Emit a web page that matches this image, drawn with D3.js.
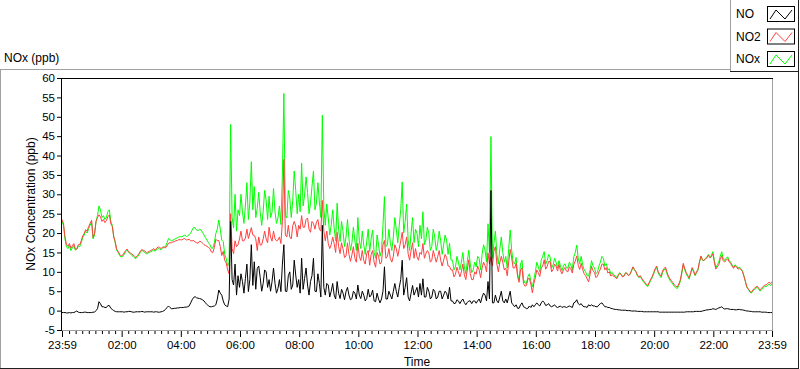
<!DOCTYPE html>
<html>
<head>
<meta charset="utf-8">
<script src="https://cdn.jsdelivr.net/npm/d3@7"></script>
<style>
  body { margin: 0; background: #fff; }
  svg { display: block; font-family: "Liberation Sans", Arial, sans-serif; }
</style>
</head>
<body>
<script>
// ---------------- DATA ----------------
const seriesNames = ["NO", "NO2", "NOx"];
const seriesColors = ["#000000", "#ff4040", "#00ff00"];
const startTime = new Date(2020, 0, 1, 23, 59);
const stepMinutes = 3;
const yTickValues = [-5, 0, 5, 10, 15, 20, 25, 30, 35, 40, 45, 50, 55, 60];

// one row = one hour (20 samples, 3 min apart); last row has the final sample
const noxValues = [
  23.0,22.0,18.5,16.5,16.0,16.8,15.5,16.2,16.8,15.6,15.8,16.6,16.5,17.5,18.8,19.5,20.5,20.0,21.2,22.0,
  22.8,18.5,19.5,23.0,24.5,27.0,26.0,24.0,24.5,23.5,24.0,25.5,26.0,23.0,22.0,19.0,17.5,15.5,15.0,14.2,
  13.8,14.0,14.5,15.2,15.6,15.0,14.8,14.3,14.0,13.6,13.4,13.9,14.4,15.0,15.6,15.2,15.0,14.6,14.8,15.0,
  15.2,15.4,15.6,15.3,15.8,16.0,15.9,15.7,16.2,16.4,16.5,17.5,18.6,18.3,18.0,18.2,18.4,18.6,18.8,19.0,
  19.1,19.0,19.3,19.5,19.1,19.3,19.6,20.0,20.8,21.5,21.3,20.8,20.6,21.0,20.8,20.2,19.5,18.8,18.2,17.5,
  17.0,16.1,16.1,17.5,19.9,21.0,23.4,21.0,18.2,17.8,14.5,13.5,11.5,12.5,48.0,24.0,21.3,30.0,20.5,26.0,
  24.5,30.0,25.5,22.5,27.0,33.0,23.5,28.0,38.4,26.0,32.0,24.0,26.4,30.5,25.4,22.0,25.5,31.0,28.5,23.5,
  29.5,24.0,25.4,31.5,25.5,22.5,23.9,27.0,22.2,35.0,56.0,24.5,23.9,31.0,29.0,24.0,28.5,36.0,31.0,25.0,
  30.0,25.5,38.0,27.0,29.8,34.5,30.5,25.0,27.7,32.0,36.0,26.0,27.7,33.0,28.0,24.0,50.4,26.5,22.0,27.5,
  23.9,19.5,22.0,26.0,21.3,18.0,27.7,21.0,17.8,23.0,20.4,16.5,19.0,23.5,18.5,15.5,17.5,21.5,18.0,15.5,
  24.0,18.0,16.0,20.5,16.9,14.5,17.8,21.0,15.2,18.5,20.8,15.0,13.5,19.5,17.0,14.0,15.5,22.0,29.4,16.5,
  17.0,21.0,17.4,15.5,19.0,24.0,21.0,17.5,22.0,26.0,33.2,20.0,23.0,27.5,18.2,15.5,20.0,24.0,17.5,21.0,
  19.9,16.5,22.0,18.5,25.5,17.0,18.2,21.5,19.9,15.5,16.5,21.0,19.0,15.5,17.4,20.5,18.0,14.5,17.0,19.5,
  18.2,14.5,17.4,13.0,13.0,10.5,11.3,14.0,12.5,10.5,12.5,15.0,11.3,9.5,12.6,15.6,12.0,9.8,10.5,12.5,
  11.3,14.0,13.5,10.5,14.5,17.0,15.6,12.5,22.4,15.0,44.9,13.5,17.4,20.5,14.5,12.0,16.0,19.0,15.0,12.5,
  14.0,11.0,16.0,20.8,15.6,12.5,12.0,13.7,9.4,7.9,12.0,13.0,8.0,7.1,7.0,8.8,9.5,7.5,6.1,8.0,
  10.0,12.5,11.3,10.0,13.0,14.0,15.2,12.0,12.9,14.5,13.8,11.0,11.8,13.5,12.5,11.0,12.9,11.5,10.3,11.5,
  12.1,11.0,11.0,12.5,11.8,10.5,13.9,15.0,16.9,13.5,12.1,14.0,11.8,10.5,10.0,9.0,8.9,10.5,12.9,11.5,
  11.0,9.5,9.9,11.5,12.5,14.0,13.5,11.5,12.1,10.5,10.8,9.5,9.8,9.2,9.0,8.5,9.2,9.8,9.4,8.8,
  9.0,9.8,9.6,9.0,9.4,10.2,11.2,10.5,10.0,9.0,8.5,8.8,8.1,7.5,7.0,6.5,6.2,7.0,7.8,8.5,
  9.5,10.5,11.2,9.8,9.0,8.5,9.8,10.5,10.8,9.5,8.5,7.8,7.3,6.8,6.2,5.9,5.7,6.5,7.5,9.5,
  11.8,10.5,9.5,8.8,8.1,9.5,10.8,10.0,9.0,9.8,10.5,12.5,13.9,13.0,12.9,13.5,13.8,14.5,13.9,14.2,
  15.2,13.0,11.0,11.8,12.5,14.0,15.2,13.5,12.9,13.5,13.9,13.0,12.5,11.8,11.2,11.8,11.5,11.0,11.2,10.8,
  10.3,9.0,7.5,6.0,5.5,4.8,4.5,5.0,5.4,5.8,6.0,5.5,5.0,5.4,5.8,6.2,6.2,6.5,6.8,6.5,7.0
];

const noValues = [
  -0.5,-0.5,-0.5,-0.6,-0.6,-0.5,-0.6,-0.5,-0.5,-0.3,-0.1,-0.4,-0.5,-0.5,-0.5,-0.4,-0.4,-0.5,-0.5,-0.5,
  -0.5,-0.4,-0.4,0.0,0.5,2.3,1.8,1.0,1.0,0.8,0.8,1.3,1.3,0.6,0.3,0.0,-0.2,-0.3,-0.3,-0.3,
  -0.3,-0.3,-0.4,-0.3,-0.3,-0.2,-0.2,-0.3,-0.4,-0.4,-0.3,-0.3,-0.3,-0.3,-0.2,-0.3,-0.4,-0.3,-0.3,-0.3,
  -0.3,-0.3,-0.4,-0.3,-0.3,-0.4,-0.4,-0.3,-0.2,0.0,0.3,0.8,1.2,0.8,0.5,0.5,0.6,0.6,0.7,0.7,
  0.8,0.8,0.8,0.9,0.9,1.0,1.2,2.0,2.8,3.4,3.6,3.3,3.2,3.1,3.0,2.8,2.5,2.0,1.6,1.2,
  1.0,1.0,1.1,1.2,1.5,3.0,5.3,4.5,4.0,2.5,1.5,1.2,1.0,3.0,23.0,8.0,6.6,12.0,4.0,9.0,
  6.0,9.5,7.5,4.5,8.3,12.0,4.9,8.0,17.0,6.5,12.6,5.5,10.9,11.5,8.5,5.0,7.0,10.5,10.0,6.0,
  8.0,5.0,7.5,11.0,7.0,4.5,5.7,8.0,4.9,12.0,17.0,5.0,4.9,9.0,10.0,5.5,6.6,13.0,9.2,6.0,
  8.0,4.5,13.5,5.5,8.3,11.0,6.6,4.0,7.5,9.0,13.5,5.0,4.9,9.5,7.0,3.5,22.0,6.0,4.0,7.0,
  6.6,3.5,5.0,7.0,4.0,3.0,7.5,4.5,3.1,5.5,4.5,2.8,4.9,6.0,4.0,2.8,3.1,5.0,4.5,3.0,
  6.6,4.0,3.1,5.0,4.0,2.5,3.1,5.5,3.5,4.0,5.3,2.5,2.3,4.5,3.0,2.0,3.0,5.0,11.3,3.0,
  3.0,5.0,4.0,3.0,5.0,7.0,5.0,3.5,6.0,8.0,13.0,4.0,6.0,8.5,3.5,2.5,4.5,6.5,4.0,5.0,
  6.0,3.5,7.0,4.0,8.2,3.5,3.5,6.0,5.0,3.0,3.5,5.5,5.0,3.0,3.5,5.0,5.0,3.0,4.0,5.0,
  4.5,3.0,6.0,2.5,2.5,1.8,1.9,2.8,2.5,1.8,2.5,3.0,2.1,1.5,2.1,2.5,2.5,1.8,2.5,2.5,
  1.9,2.5,3.0,2.0,3.5,4.5,4.0,2.5,7.5,3.0,31.0,2.0,2.0,4.0,2.5,2.0,3.5,5.0,2.5,2.0,
  3.0,2.0,3.5,5.0,2.0,1.5,1.0,1.5,0.6,0.6,1.5,2.0,1.0,0.8,0.5,0.6,1.2,0.8,1.5,1.0,
  1.5,2.0,1.5,1.2,2.0,2.5,2.1,1.3,1.5,1.8,1.2,1.0,1.2,1.5,1.0,0.8,1.0,1.2,0.8,1.0,
  1.0,0.8,1.0,1.2,1.0,0.8,2.0,2.2,2.8,1.8,1.5,1.8,1.2,1.0,1.0,0.8,1.5,1.2,1.5,1.2,
  1.2,1.0,1.0,1.5,1.8,2.0,1.5,1.0,1.0,0.8,0.8,0.6,0.5,0.4,0.3,0.3,0.2,0.2,0.1,0.1,
  0.1,0.1,0.0,0.0,0.0,-0.1,-0.1,-0.1,-0.1,-0.2,-0.2,-0.2,-0.2,-0.3,-0.3,-0.3,-0.3,-0.3,-0.3,-0.3,
  -0.3,-0.3,-0.3,-0.3,-0.4,-0.4,-0.4,-0.4,-0.4,-0.4,-0.4,-0.4,-0.4,-0.4,-0.4,-0.4,-0.4,-0.4,-0.4,-0.4,
  -0.4,-0.4,-0.3,-0.3,-0.3,-0.3,-0.3,-0.3,-0.2,-0.2,-0.2,-0.2,-0.2,-0.1,0.0,0.1,0.2,0.2,0.3,0.3,
  0.5,0.4,0.3,0.5,0.7,0.8,1.0,0.6,0.4,0.5,0.5,0.4,0.3,0.3,0.3,0.2,0.2,0.3,0.3,0.2,
  0.2,0.1,0.0,-0.1,-0.1,-0.2,-0.2,-0.3,-0.3,-0.3,-0.3,-0.3,-0.3,-0.4,-0.4,-0.4,-0.4,-0.5,-0.5,-0.5,-0.5
];

const no2Values = [
  23.5,22.5,19.0,17.1,16.6,17.3,16.1,16.7,17.3,15.9,15.9,17.0,17.0,18.0,19.3,19.9,20.9,20.5,21.7,22.5,
  23.3,18.9,19.9,23.0,24.0,24.7,24.2,23.0,23.5,22.7,23.2,24.2,24.7,22.4,21.7,19.0,17.7,15.8,15.3,14.5,
  14.1,14.3,14.9,15.5,15.9,15.2,15.0,14.6,14.4,14.0,13.7,14.2,14.7,15.3,15.8,15.5,15.4,14.9,15.1,15.3,
  15.5,15.7,16.0,15.6,16.1,16.4,16.3,16.0,16.4,16.4,16.2,16.7,17.4,17.5,17.5,17.7,17.8,18.0,18.1,18.3,
  18.3,18.2,18.5,18.6,18.2,18.3,18.4,18.0,18.0,18.1,17.7,17.5,17.4,17.9,17.8,17.4,17.0,16.8,16.6,16.3,
  16.0,15.1,15.0,16.3,18.4,18.0,18.1,16.5,14.2,15.3,13.0,12.3,10.5,9.5,25.0,16.0,14.7,18.0,16.5,17.0,
  18.5,20.5,18.0,18.0,18.7,21.0,18.6,20.0,21.4,19.5,19.4,18.5,15.5,19.0,16.9,17.0,18.5,20.5,18.5,17.5,
  21.5,19.0,17.9,20.5,18.5,18.0,18.2,19.0,17.3,23.0,39.0,19.5,19.0,22.0,19.0,18.5,21.9,23.0,21.8,19.0,
  22.0,21.0,24.5,21.5,21.5,23.5,23.9,21.0,20.2,23.0,22.5,21.0,22.8,23.5,21.0,20.5,28.4,20.5,18.0,20.5,
  17.3,16.0,17.0,19.0,17.3,15.0,20.2,16.5,14.7,17.5,15.9,13.7,14.1,17.5,14.5,12.7,14.4,16.5,13.5,12.5,
  17.4,14.0,12.9,15.5,12.9,12.0,14.7,15.5,11.7,14.5,15.5,12.5,11.2,15.0,14.0,12.0,12.5,17.0,18.1,13.5,
  14.0,16.0,13.4,12.5,14.0,17.0,16.0,14.0,16.0,18.0,20.2,16.0,17.0,19.0,14.7,13.0,15.5,17.5,13.5,16.0,
  13.9,13.0,15.0,14.5,17.3,13.5,14.7,15.5,14.9,12.5,13.0,15.5,14.0,12.5,13.9,15.5,13.0,11.5,13.0,14.5,
  13.7,11.5,11.4,10.5,10.5,8.7,9.4,11.2,10.0,8.7,10.0,12.0,9.2,8.0,10.5,13.1,9.5,8.0,8.0,10.0,
  9.4,11.5,10.5,8.5,11.0,12.5,11.6,10.0,14.9,12.0,13.9,11.5,15.4,16.5,12.0,10.0,12.5,14.0,12.5,10.5,
  11.0,9.0,12.5,15.8,13.6,11.0,11.0,12.2,8.8,7.3,10.5,11.0,7.0,6.3,6.5,8.2,8.3,6.7,4.6,7.0,
  8.5,10.5,9.8,8.8,11.0,11.5,13.1,10.7,11.4,12.7,12.6,10.0,10.6,12.0,11.5,10.2,11.9,10.3,9.5,10.5,
  11.1,10.2,10.0,11.3,10.8,9.7,11.9,12.8,14.1,11.7,10.6,12.2,10.6,9.5,9.0,8.2,7.4,9.3,11.4,10.3,
  9.8,8.5,8.9,10.0,10.7,12.0,12.0,10.5,11.1,9.7,10.0,8.9,9.3,8.8,8.7,8.2,9.0,9.6,9.3,8.7,
  8.9,9.7,9.6,9.0,9.4,10.3,11.3,10.6,10.1,9.2,8.7,9.0,8.3,7.8,7.3,6.8,6.5,7.3,8.1,8.8,
  9.8,10.8,11.5,10.1,9.4,8.9,10.2,10.9,11.2,9.9,8.9,8.2,7.7,7.2,6.6,6.3,6.1,6.9,7.9,9.9,
  12.2,10.9,9.8,9.1,8.4,9.8,11.1,10.3,9.2,10.0,10.7,12.7,14.1,13.1,12.9,13.4,13.6,14.3,13.6,13.9,
  14.7,12.6,10.7,11.3,11.8,13.2,14.2,12.9,12.5,13.0,13.4,12.6,12.2,11.5,10.9,11.6,11.3,10.7,10.9,10.6,
  10.1,8.9,7.5,6.1,5.6,5.0,4.7,5.3,5.7,6.1,6.3,5.8,5.3,5.8,6.2,6.6,6.6,7.0,7.3,7.0,7.5
];

// ---------------- CHART ----------------
const W = 800, H = 369;
const plotL = 62, plotR = 772, plotT = 78, plotB = 330;

const svg = d3.select("body").append("svg").attr("width", W).attr("height", H);

const endTime = d3.timeHour.offset(startTime, 24);
const x = d3.scaleTime().domain([startTime, endTime]).range([plotL, plotR]);
const y = d3.scaleLinear().domain([-5, 60]).range([plotB, plotT]);

const timeOf = i => d3.timeMinute.offset(startTime, i * stepMinutes);

// panel frame
svg.append("line").attr("x1", 0).attr("x2", 730).attr("y1", 69.5).attr("y2", 69.5).attr("stroke", "#a0a0a0");
svg.append("line").attr("x1", 0.5).attr("x2", 0.5).attr("y1", 69).attr("y2", 368).attr("stroke", "#a0a0a0");
svg.append("line").attr("x1", 0).attr("x2", 799).attr("y1", 368.5).attr("y2", 368.5).attr("stroke", "#202020");
svg.append("line").attr("x1", 798.5).attr("x2", 798.5).attr("y1", 69).attr("y2", 369).attr("stroke", "#202020");

// panel title
svg.append("text").attr("x", 4).attr("y", 62).attr("font-size", 12).attr("fill", "#000").text("NOx (ppb)");

// plot clip
svg.append("clipPath").attr("id", "clip").append("rect")
  .attr("x", plotL).attr("y", plotT).attr("width", plotR - plotL).attr("height", plotB - plotT);

const plotG = svg.append("g").attr("clip-path", "url(#clip)");

const makeLine = vals => d3.line()
  .x((d, i) => x(timeOf(i)))
  .y(d => y(d))(vals);

// draw order: NOx, NO2, NO
[[noxValues, seriesColors[2]], [no2Values, seriesColors[1]], [noValues, seriesColors[0]]].forEach(([vals, c]) => {
  plotG.append("path").attr("d", makeLine(vals)).attr("fill", "none")
    .attr("stroke", c).attr("stroke-width", 1).attr("stroke-linejoin", "miter");
});

// plot frame
svg.append("line").attr("x1", plotL).attr("x2", plotR + 1).attr("y1", plotB + 0.5).attr("y2", plotB + 0.5).attr("stroke", "#a0a0a0");
svg.append("line").attr("x1", plotR + 0.5).attr("x2", plotR + 0.5).attr("y1", plotT).attr("y2", plotB + 1).attr("stroke", "#a0a0a0");
svg.append("line").attr("x1", plotL).attr("x2", plotR + 1).attr("y1", plotT + 0.5).attr("y2", plotT + 0.5).attr("stroke", "#000");
svg.append("line").attr("x1", plotL - 0.5).attr("x2", plotL - 0.5).attr("y1", plotT).attr("y2", plotB + 1).attr("stroke", "#000");

// y axis
const yAxis = svg.append("g").attr("transform", `translate(${plotL - 1},0)`)
  .call(d3.axisLeft(y).tickValues(yTickValues).tickSize(4).tickPadding(2).tickFormat(d => String(d)));
yAxis.select(".domain").remove();
yAxis.selectAll("text").attr("font-size", 11.5).attr("font-family", "Liberation Sans, Arial, sans-serif").attr("fill", "#000");
yAxis.selectAll("line").attr("stroke", "#000");

// x axis major: endpoints plus every even hour
const evenHours = d3.timeHour.every(2).range(d3.timeMinute.offset(startTime, 5), d3.timeMinute.offset(endTime, -5));
const majorTicks = [startTime, ...evenHours, endTime];
const xAxis = svg.append("g").attr("transform", `translate(0,${plotB + 1})`)
  .call(d3.axisBottom(x).tickValues(majorTicks).tickSize(6).tickPadding(4).tickFormat(d3.timeFormat("%H:%M")));
xAxis.select(".domain").remove();
xAxis.selectAll("text").attr("font-size", 11.5).attr("font-family", "Liberation Sans, Arial, sans-serif").attr("fill", "#000");
xAxis.selectAll("line").attr("stroke", "#000");

// x axis minor: 9 divisions per 2 hours
const minorBase = new Date(2020, 0, 2, 0, 0);
const minorTicks = d3.range(0, 109).filter(k => k % 9 !== 0)
  .map(k => d3.timeSecond.offset(minorBase, k * 800))
  .filter(t => t < endTime);
const xMinor = svg.append("g").attr("transform", `translate(0,${plotB + 1})`)
  .call(d3.axisBottom(x).tickValues(minorTicks).tickSize(3).tickFormat(""));
xMinor.select(".domain").remove();
xMinor.selectAll("line").attr("stroke", "#000");

// axis titles
svg.append("text").attr("x", (plotL + plotR) / 2).attr("y", 366).attr("text-anchor", "middle")
  .attr("font-size", 12).attr("fill", "#000").text("Time");
svg.append("text").attr("transform", `translate(35,${(plotT + plotB) / 2}) rotate(-90)`)
  .attr("text-anchor", "middle").attr("font-size", 12).attr("fill", "#000").text("NOx Concentration (ppb)");

// legend
const lg = svg.append("g");
lg.append("rect").attr("x", 730).attr("y", 0).attr("width", 69).attr("height", 72).attr("fill", "#fff");
lg.append("line").attr("x1", 730.5).attr("x2", 730.5).attr("y1", 0).attr("y2", 72).attr("stroke", "#a0a0a0");
lg.append("line").attr("x1", 730).attr("x2", 799).attr("y1", 71.5).attr("y2", 71.5).attr("stroke", "#202020");
lg.append("line").attr("x1", 798.5).attr("x2", 798.5).attr("y1", 0).attr("y2", 72).attr("stroke", "#202020");
seriesNames.forEach((name, i) => {
  const cy = 14 + i * 22.5;
  lg.append("text").attr("x", 736).attr("y", cy + 4).attr("font-size", 12).attr("fill", "#000").text(name);
  lg.append("rect").attr("x", 767.5).attr("y", cy - 7.5).attr("width", 27).attr("height", 15)
    .attr("fill", "#fff").attr("stroke", "#000");
  lg.append("path")
    .attr("d", `M${770},${cy + 5} L${776},${cy - 4} L${785},${cy + 5} L${792},${cy - 4}`)
    .attr("fill", "none").attr("stroke", seriesColors[i]).attr("stroke-width", 1);
});
</script>
</body>
</html>
